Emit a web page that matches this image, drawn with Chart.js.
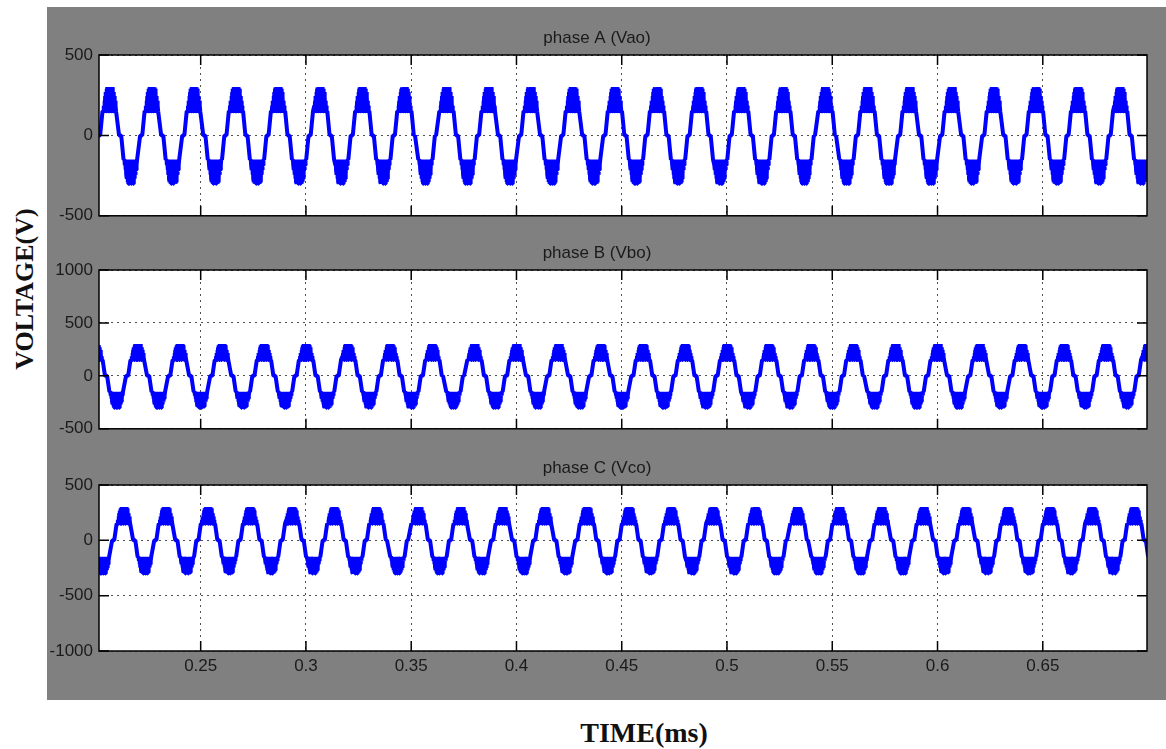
<!DOCTYPE html>
<html>
<head>
<meta charset="utf-8">
<script src="https://cdn.jsdelivr.net/npm/chart.js@4.4.1/dist/chart.umd.min.js"></script>
<style>
  html, body { margin: 0; padding: 0; background: #fff; }
  #page { position: relative; width: 1166px; height: 749px; overflow: hidden; }
  #panel { position: absolute; left: 47px; top: 7px; width: 1119px; height: 693px; background: #808080; }
  canvas { position: absolute; left: 47px; }
  #ylab { position: absolute; left: 25px; top: 289px; transform: translate(-50%, -50%) rotate(-90deg);
          font: bold 26px "Liberation Serif"; line-height: 1; white-space: nowrap; color: #111; }
  #xlab { position: absolute; left: 644px; top: 719px; transform: translateX(-50%);
          font: bold 28px "Liberation Serif"; line-height: 1; white-space: nowrap; color: #111; }
</style>
</head>
<body>
<div id="page">
  <div id="panel"></div>
  <canvas id="c0" width="1119" height="204" style="top:28px"></canvas>
  <canvas id="c1" width="1119" height="202" style="top:243px"></canvas>
  <canvas id="c2" width="1119" height="223" style="top:458px"></canvas>
  <div id="ylab">VOLTAGE(V)</div>
  <div id="xlab">TIME(ms)</div>
</div>
<script>
// time axis
const xMin = 0.2017;
const xMax = 0.6995;
const xTicks = [0.25, 0.3, 0.35, 0.4, 0.45, 0.5, 0.55, 0.6, 0.65];

// one cycle of the multilevel output:
// [angle in degrees from the rising zero crossing, volts].
// The blobs at the peaks are the PWM toggling between the 150 V and 300 V levels.
const cycleShape = [
  [0, 0], [8, 0], [28, 150],
  [36, 150], [39, 185], [42, 150], [45, 215], [48, 150], [51, 245], [54, 150], [57, 270],
  [60, 150], [63, 290], [66, 150], [69, 300], [72, 150], [75, 300], [78, 150], [81, 300],
  [84, 150], [87, 300], [90, 150], [93, 300], [96, 150], [99, 300], [102, 150], [105, 300],
  [108, 150], [111, 300], [114, 150], [117, 290], [120, 150], [123, 270], [126, 150], [129, 245],
  [132, 150], [135, 215], [138, 150], [141, 185], [144, 150],
  [150, 150], [170, 0],
  [180, 0], [188, 0], [208, -150],
  [216, -150], [219, -185], [222, -150], [225, -215], [228, -150], [231, -245], [234, -150], [237, -270],
  [240, -150], [243, -290], [246, -150], [249, -300], [252, -150], [255, -300], [258, -150], [261, -300],
  [264, -150], [267, -300], [270, -150], [273, -300], [276, -150], [279, -300], [282, -150], [285, -300],
  [288, -150], [291, -300], [294, -150], [297, -290], [300, -150], [303, -270], [306, -150], [309, -245],
  [312, -150], [315, -215], [318, -150], [321, -185], [324, -150],
  [330, -150], [350, 0]
];
const period = 0.02;
const cycleCount = 26;

// the three phases
const phaseTitles = ['phase A (Vao)', 'phase B (Vbo)', 'phase C (Vco)'];
const phaseZero = [0.2018, 0.1951, 0.2085];   // first rising zero crossing
const yMins = [-500, -500, -1000];
const yMaxs = [500, 1000, 500];
const yTicks = [[-500, 0, 500], [-500, 0, 500, 1000], [-1000, -500, 0, 500]];

Chart.defaults.font.family = '"Liberation Sans", Arial, sans-serif';

function phaseSeries(zero) {
  const pts = [];
  for (let k = -1; k <= cycleCount; k++) {
    cycleShape.forEach(([deg, volt]) => {
      pts.push({ x: zero + (k + deg / 360) * period, y: volt });
    });
  }
  return pts;
}

// white axes, solid box and inward ticks like the MATLAB figure
const axesBox = {
  id: 'axesBox',
  beforeDraw(chart) {
    const a = chart.chartArea, ctx = chart.ctx;
    ctx.save();
    ctx.fillStyle = '#ffffff';
    ctx.fillRect(a.left, a.top, a.right - a.left, a.bottom - a.top);
    ctx.restore();
  },
  afterDatasetsDraw(chart) {
    const a = chart.chartArea, ctx = chart.ctx;
    const len = 10;
    ctx.save();
    ctx.strokeStyle = '#000';
    ctx.lineWidth = 1.5;
    ctx.beginPath();
    chart.scales.x.ticks.forEach(t => {
      const px = chart.scales.x.getPixelForValue(t.value);
      ctx.moveTo(px, a.bottom); ctx.lineTo(px, a.bottom - len);
      ctx.moveTo(px, a.top); ctx.lineTo(px, a.top + len);
    });
    chart.scales.y.ticks.forEach(t => {
      const py = chart.scales.y.getPixelForValue(t.value);
      ctx.moveTo(a.left, py); ctx.lineTo(a.left + len, py);
      ctx.moveTo(a.right, py); ctx.lineTo(a.right - len, py);
    });
    ctx.stroke();
    ctx.strokeRect(a.left, a.top, a.right - a.left, a.bottom - a.top);
    ctx.restore();
  }
};

function makeChart(i) {
  const last = i === 2;
  return new Chart(document.getElementById('c' + i), {
    type: 'line',
    data: {
      datasets: [{
        data: phaseSeries(phaseZero[i]),
        borderColor: '#0000ff',
        borderWidth: 4,
        borderJoinStyle: 'bevel',
        pointRadius: 0,
        tension: 0,
        clip: 0
      }]
    },
    options: {
      responsive: false,
      animation: false,
      events: [],
      parsing: false,
      layout: { padding: { left: 0, right: 19, top: 0, bottom: 0 } },
      plugins: {
        legend: { display: false },
        tooltip: { enabled: false },
        title: {
          display: true,
          text: phaseTitles[i],
          color: '#1a1a1a',
          font: { size: 17, weight: 'normal' },
          padding: { top: 0, bottom: 6.6 }
        }
      },
      scales: {
        x: {
          type: 'linear',
          min: xMin,
          max: xMax,
          afterBuildTicks: s => { s.ticks = xTicks.map(v => ({ value: v })); },
          afterFit: s => { s.height = last ? 30 : 12; },
          ticks: {
            display: last,
            padding: 5,
            maxRotation: 0,
            color: '#1a1a1a',
            font: { size: 17 },
            callback: v => String(v)
          },
          grid: { drawTicks: false, color: '#505050', lineWidth: 1 },
          border: { display: false, dash: [2, 4] }
        },
        y: {
          min: yMins[i],
          max: yMaxs[i],
          afterBuildTicks: s => { s.ticks = yTicks[i].map(v => ({ value: v })); },
          afterFit: s => { s.width = 52; },
          ticks: {
            padding: 6,
            color: '#1a1a1a',
            font: { size: 17 },
            callback: v => String(v)
          },
          grid: { drawTicks: false, color: '#505050', lineWidth: 1 },
          border: { display: false, dash: [2, 4] }
        }
      }
    },
    plugins: [axesBox]
  });
}

[0, 1, 2].forEach(makeChart);
</script>
</body>
</html>
